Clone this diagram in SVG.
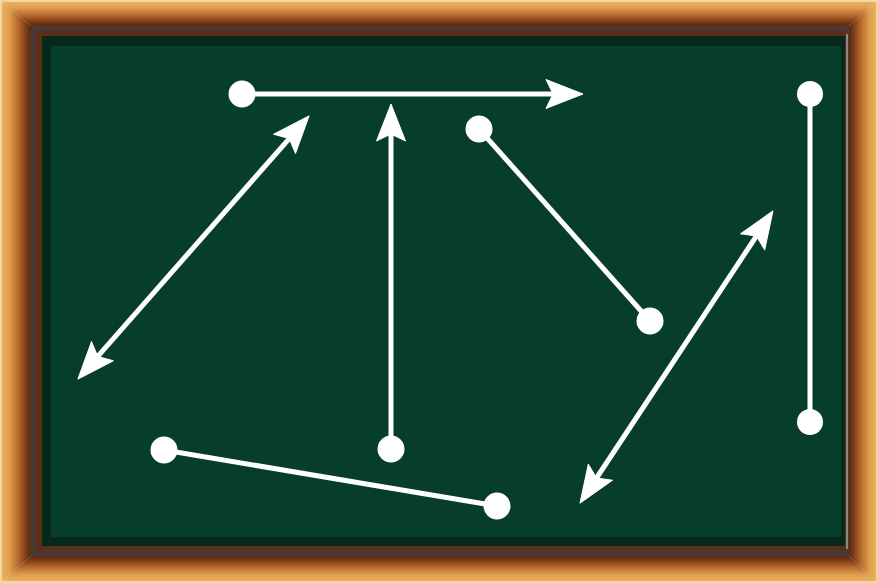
<svg xmlns="http://www.w3.org/2000/svg" width="878" height="583" viewBox="0 0 878 583">
  <defs>
    <linearGradient id="gTop" x1="0" y1="0" x2="0" y2="1">
      <stop offset="0" stop-color="#EDB565"/>
      <stop offset="0.3" stop-color="#E09E50"/>
      <stop offset="0.6" stop-color="#B5672C"/>
      <stop offset="0.85" stop-color="#7A3A18"/>
      <stop offset="1" stop-color="#5A2812"/>
    </linearGradient>
    <linearGradient id="gBot" x1="0" y1="1" x2="0" y2="0">
      <stop offset="0" stop-color="#EDB565"/>
      <stop offset="0.3" stop-color="#E09E50"/>
      <stop offset="0.6" stop-color="#B5672C"/>
      <stop offset="0.85" stop-color="#7A3A18"/>
      <stop offset="1" stop-color="#5A2812"/>
    </linearGradient>
    <linearGradient id="gLeft" x1="0" y1="0" x2="1" y2="0">
      <stop offset="0" stop-color="#EDB565"/>
      <stop offset="0.3" stop-color="#E09E50"/>
      <stop offset="0.6" stop-color="#B5672C"/>
      <stop offset="0.85" stop-color="#7A3A18"/>
      <stop offset="1" stop-color="#5A2812"/>
    </linearGradient>
    <linearGradient id="gRight" x1="1" y1="0" x2="0" y2="0">
      <stop offset="0" stop-color="#EDB565"/>
      <stop offset="0.3" stop-color="#E09E50"/>
      <stop offset="0.6" stop-color="#B5672C"/>
      <stop offset="0.85" stop-color="#7A3A18"/>
      <stop offset="1" stop-color="#5A2812"/>
    </linearGradient>
    <marker id="arrow" markerUnits="userSpaceOnUse" markerWidth="42" markerHeight="34" viewBox="-39 -17 41 34" refX="-27" refY="0" orient="auto-start-reverse">
      <path d="M0,0 L-37,-14.5 L-30,0 L-37,14.5 Z" fill="#FFFFFF" stroke="#FFFFFF" stroke-width="1" stroke-linejoin="round"/>
    </marker>
  </defs>
  <style>
    .ln { stroke: #FFFFFF; stroke-width: 5; fill: none; }
    .dot { fill: #FFFFFF; }
  </style>

  <g id="frame">
    <polygon points="0,0 878,0 849,26 31,26" fill="url(#gTop)"/>
    <polygon points="0,583 878,583 849,556 31,556" fill="url(#gBot)"/>
    <polygon points="0,0 31,26 31,556 0,583" fill="url(#gLeft)"/>
    <polygon points="878,0 849,26 849,556 878,583" fill="url(#gRight)"/>
    <rect x="1" y="1" width="876" height="581" fill="none" stroke="#F3D6A0" stroke-width="2"/>
    <rect x="31" y="26" width="818" height="530" fill="#4B3936"/>
    <rect x="36" y="31" width="810" height="519" fill="#5B2E18"/>
    <rect x="42" y="36" width="803" height="510" fill="#06291C"/>
    <line x1="847" y1="34" x2="847" y2="549" stroke="#8E8682" stroke-width="2"/>
    <rect x="51" y="46" width="790" height="491" fill="#063E29"/>
  </g>

  <g id="connectors">
    <line class="ln" x1="242" y1="94" x2="556" y2="94" marker-end="url(#arrow)"/>
    <line class="ln" x1="95.8" y1="358.7" x2="291.2" y2="136.3" marker-start="url(#arrow)" marker-end="url(#arrow)"/>
    <line class="ln" x1="391" y1="449" x2="391" y2="131" marker-end="url(#arrow)"/>
    <line class="ln" x1="479" y1="129" x2="650" y2="321"/>
    <line class="ln" x1="594.9" y1="480.5" x2="758.1" y2="233.5" marker-start="url(#arrow)" marker-end="url(#arrow)"/>
    <line class="ln" x1="810" y1="94" x2="810" y2="422"/>
    <line class="ln" x1="164" y1="450" x2="497" y2="506"/>
  </g>

  <g id="dot1"><circle class="dot" cx="242" cy="94" r="13.5"/></g>
  <g id="dot2"><circle class="dot" cx="391" cy="449" r="13.5"/></g>
  <g id="dot3"><circle class="dot" cx="479" cy="129" r="13.5"/></g>
  <g id="dot4"><circle class="dot" cx="650" cy="321" r="13.5"/></g>
  <g id="dot5"><circle class="dot" cx="810" cy="94" r="13"/></g>
  <g id="dot6"><circle class="dot" cx="810" cy="422" r="13"/></g>
  <g id="dot7"><circle class="dot" cx="164" cy="450" r="13.5"/></g>
  <g id="dot8"><circle class="dot" cx="497" cy="506" r="13.5"/></g>
</svg>
